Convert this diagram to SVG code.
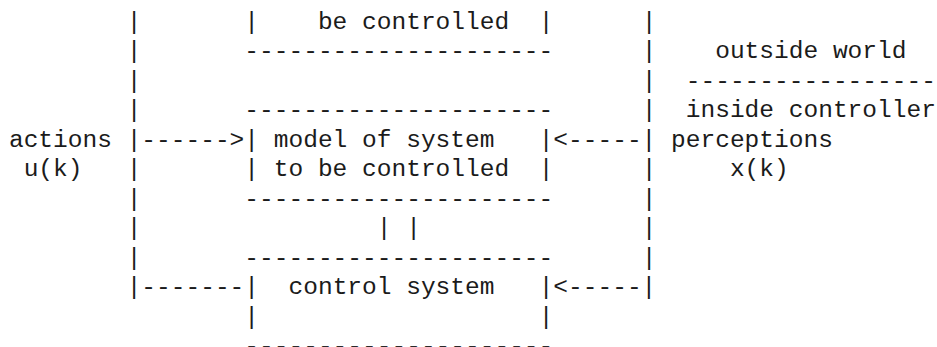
<svg xmlns="http://www.w3.org/2000/svg" width="937" height="347" viewBox="0 0 937 347">
  <style>
    .t { font-family: "Liberation Mono", "Courier New", monospace; font-size: 24.52px; fill: #1b1b1b; white-space: pre; }
  </style>
  <rect width="937" height="347" fill="#ffffff"/>
  <!-- monospace grid: column c at x = 8.93 + 14.714*c, row r baseline at y = 28.5 + 29.5*r -->

  <g id="connectors" class="t">
    <!-- left bus (column 8) -->
    <text x="126.64" y="28.5">|</text>
    <text x="126.64" y="58">|</text>
    <text x="126.64" y="87.5">|</text>
    <text x="126.64" y="117">|</text>
    <text x="126.64" y="146.5">|------&gt;|</text>
    <text x="126.64" y="176">|</text>
    <text x="126.64" y="205.5">|</text>
    <text x="126.64" y="235">|</text>
    <text x="126.64" y="264.5">|</text>
    <text x="126.64" y="294">|-------|</text>
    <!-- right bus (column 43) -->
    <text x="641.63" y="28.5">|</text>
    <text x="641.63" y="58">|</text>
    <text x="641.63" y="87.5">|</text>
    <text x="641.63" y="117">|</text>
    <text x="538.63" y="146.5">|&lt;-----|</text>
    <text x="641.63" y="176">|</text>
    <text x="641.63" y="205.5">|</text>
    <text x="641.63" y="235">|</text>
    <text x="641.63" y="264.5">|</text>
    <text x="538.63" y="294">|&lt;-----|</text>
    <!-- link between model and control system -->
    <text x="376.78" y="235">|</text>
    <text x="406.21" y="235">|</text>
  </g>

  <g id="plant" class="t">
    <text x="244.35" y="28.5">|</text>
    <text x="317.92" y="28.5">be controlled</text>
    <text x="538.63" y="28.5">|</text>
    <text x="244.35" y="58">---------------------</text>
  </g>

  <g id="model" class="t">
    <text x="244.35" y="117">---------------------</text>
    <text x="273.78" y="146.5">model of system</text>
    <text x="244.35" y="176">|</text>
    <text x="273.78" y="176">to be controlled</text>
    <text x="538.63" y="176">|</text>
    <text x="244.35" y="205.5">---------------------</text>
  </g>

  <g id="control-system" class="t">
    <text x="244.35" y="264.5">---------------------</text>
    <text x="288.50" y="294">control system</text>
    <text x="244.35" y="323.5">|</text>
    <text x="538.63" y="323.5">|</text>
    <text x="244.35" y="353">---------------------</text>
  </g>

  <g id="boundary" class="t">
    <text x="715.20" y="58">outside world</text>
    <text x="685.77" y="87.5">-----------------</text>
    <text x="685.77" y="117">inside controller</text>
  </g>

  <g id="actions" class="t">
    <text x="8.93" y="146.5">actions</text>
    <text x="23.64" y="176">u(k)</text>
  </g>

  <g id="perceptions" class="t">
    <text x="671.06" y="146.5">perceptions</text>
    <text x="729.92" y="176">x(k)</text>
  </g>
</svg>
